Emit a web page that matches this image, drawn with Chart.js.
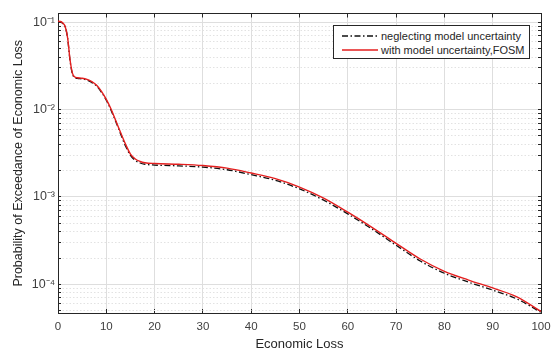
<!DOCTYPE html>
<html>
<head>
<meta charset="utf-8">
<script src="https://cdn.jsdelivr.net/npm/chart.js@4/dist/chart.umd.min.js"></script>
<style>
  html, body { margin: 0; padding: 0; background: #fff; }
  #wrap { position: relative; width: 553px; height: 354px; }
  #legend {
    position: absolute; left: 333px; top: 25px; width: 197px; height: 34px;
    background: #fff; border: 1px solid #262626; box-sizing: border-box;
    font: 11px "Liberation Sans", Arial, sans-serif; color: #262626;
  }
  #legend .row { position: absolute; left: 8px; height: 14px; display: flex; align-items: center; white-space: nowrap; }
  #legend svg { margin-right: 3px; }
</style>
</head>
<body>
<div id="wrap">
  <canvas id="c" width="553" height="354"></canvas>
  <div id="legend">
    <div class="row" style="top:3px">
      <svg width="36" height="6"><line x1="0" y1="3" x2="36" y2="3" stroke="#111" stroke-width="1.3" stroke-dasharray="6,2.5,1.5,2.5"/></svg>
      <span>neglecting model uncertainty</span>
    </div>
    <div class="row" style="top:17px">
      <svg width="36" height="6"><line x1="0" y1="3" x2="36" y2="3" stroke="#e41e1e" stroke-width="1.4"/></svg>
      <span>with model uncertainty,FOSM</span>
    </div>
  </div>
</div>
<script>
// Economic loss values (x)
const loss = [0, 0.5, 1, 1.5, 2, 2.5, 3, 3.5, 4, 5, 6, 7, 8, 9, 10, 11, 12, 13, 14, 15, 16, 17, 18,
              20, 25, 30, 35, 40, 45, 50, 55, 60, 65, 70, 75, 80, 85, 90, 95, 100];

// Probability of exceedance, neglecting model uncertainty
const probNeglecting = [0.102, 0.101, 0.097, 0.088, 0.065, 0.036, 0.0255, 0.0232, 0.0228, 0.0225,
  0.0218, 0.0205, 0.0186, 0.0158, 0.0128, 0.0098, 0.0072, 0.0052, 0.0038, 0.0030, 0.00262,
  0.00245, 0.00237, 0.00232, 0.00227, 0.00220, 0.00205, 0.00180, 0.00155, 0.00124, 0.00092,
  0.00064, 0.00043, 0.00028, 0.000185, 0.000134, 0.000106, 0.000086, 0.000068, 0.000048];

// Probability of exceedance, with model uncertainty (FOSM)
const probFOSM = [0.103, 0.102, 0.098, 0.089, 0.066, 0.037, 0.026, 0.0236, 0.0232, 0.0229,
  0.0222, 0.0209, 0.0190, 0.0162, 0.0131, 0.0101, 0.0074, 0.0054, 0.0040, 0.0031, 0.00272,
  0.00255, 0.00247, 0.00242, 0.00237, 0.00229, 0.00214, 0.00188, 0.00162, 0.00130, 0.00097,
  0.00067, 0.00045, 0.000295, 0.000195, 0.000141, 0.000112, 0.000091, 0.000072, 0.000049];

// Axis settings
const xTicks = [0, 10, 20, 30, 40, 50, 60, 70, 80, 90, 100];
const yDecades = [-5, -4, -3, -2, -1];
const yDecadeLabels = ['10⁻⁵', '10⁻⁴', '10⁻³', '10⁻²', '10⁻¹'];
const yMin = 4.7e-5;
const yMax = 0.126;

// log-axis ticks: 1..9 times each decade inside the range
function logTicks() {
  const out = [];
  yDecades.forEach(e => {
    for (let m = 1; m <= 9; m++) {
      const v = m * Math.pow(10, e);
      if (v >= yMin && v <= yMax) out.push({ value: v, major: m === 1 });
    }
  });
  return out;
}
function decadeLabel(v) {
  const e = Math.round(Math.log10(v));
  if (Math.abs(Math.log10(v) - e) > 1e-9) return '';
  const i = yDecades.indexOf(e);
  return i >= 0 ? yDecadeLabels[i] : '';
}

const axisColor = '#262626';
const gridMajor = '#dedede';
const gridMinor = '#e2e2e2';
const fontFam = '"Liberation Sans", Arial, Helvetica, sans-serif';

new Chart(document.getElementById('c'), {
  type: 'line',
  data: {
    datasets: [
      {
        label: 'neglecting model uncertainty',
        data: loss.map((x, i) => ({ x, y: probNeglecting[i] })),
        borderColor: '#111111',
        borderWidth: 1.3,
        borderDash: [6, 2.5, 1.5, 2.5],
        pointRadius: 0,
        cubicInterpolationMode: 'monotone',
        order: 1
      },
      {
        label: 'with model uncertainty,FOSM',
        data: loss.map((x, i) => ({ x, y: probFOSM[i] })),
        borderColor: '#e41e1e',
        borderWidth: 1.4,
        pointRadius: 0,
        cubicInterpolationMode: 'monotone',
        order: 0
      }
    ]
  },
  options: {
    responsive: false,
    animation: false,
    events: [],
    layout: { padding: { left: 0, top: 12, right: 12, bottom: 0 } },
    plugins: { legend: { display: false }, tooltip: { enabled: false } },
    scales: {
      x: {
        type: 'linear', position: 'bottom', min: 0, max: 100,
        afterBuildTicks: s => { s.ticks = xTicks.map(v => ({ value: v })); },
        afterFit: s => { s.height = 41; s.paddingLeft = 0; s.paddingRight = 0; },
        grid: { color: gridMajor, lineWidth: 1, drawTicks: true, tickLength: -4, tickColor: axisColor },
        border: { display: true, color: axisColor, width: 1 },
        ticks: { autoSkip: false, maxRotation: 0, padding: 11, color: '#404040', font: { family: fontFam, size: 11.5 } },
        title: { display: true, text: 'Economic Loss', color: axisColor, padding: { top: 0, bottom: 2 }, font: { family: fontFam, size: 13 } }
      },
      xTop: {
        type: 'linear', position: 'top', min: 0, max: 100,
        afterBuildTicks: s => { s.ticks = xTicks.map(v => ({ value: v })); },
        afterFit: s => { s.height = 0; s.paddingLeft = 0; s.paddingRight = 0; },
        grid: { drawOnChartArea: false, drawTicks: true, tickLength: -4, tickColor: axisColor },
        border: { display: true, color: axisColor, width: 1 },
        ticks: { display: false }
      },
      y: {
        type: 'logarithmic', position: 'left', min: yMin, max: yMax,
        afterBuildTicks: s => { s.ticks = logTicks(); },
        afterFit: s => { s.width = 58; },
        grid: {
          color: ctx => (ctx.tick && ctx.tick.major) ? gridMajor : gridMinor,
          lineWidth: 1, drawTicks: true, tickLength: -3, tickColor: axisColor
        },
        border: {
          display: true, color: axisColor, width: 1,
          dash: ctx => (ctx.tick && !ctx.tick.major) ? [1.5, 2] : []
        },
        ticks: {
          autoSkip: false, padding: 6, color: '#404040',
          font: { family: fontFam, size: 12.5 },
          callback: v => decadeLabel(v)
        },
        title: { display: true, text: 'Probability of Exceedance of Economic Loss', color: axisColor, padding: { top: 11, bottom: 0 }, font: { family: fontFam, size: 12.5 } }
      },
      yRight: {
        type: 'logarithmic', position: 'right', min: yMin, max: yMax,
        afterBuildTicks: s => { s.ticks = logTicks(); },
        afterFit: s => { s.width = 0; },
        grid: { drawOnChartArea: false, drawTicks: true, tickLength: -3, tickColor: axisColor },
        border: { display: true, color: axisColor, width: 1 },
        ticks: { display: false }
      }
    }
  }
});
</script>
</body>
</html>
